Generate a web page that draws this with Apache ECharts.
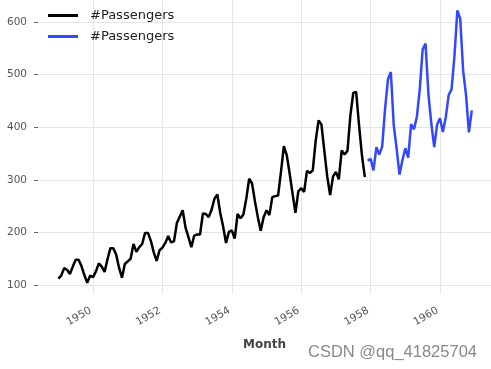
<!DOCTYPE html>
<html><head><meta charset="utf-8">
<script src="https://cdn.jsdelivr.net/npm/echarts@6/dist/echarts.min.js"></script>
<style>html,body{margin:0;padding:0;background:#fff}#c{width:491px;height:369px}</style>
</head><body><div id="c"></div>
<script>
// Monthly passengers; train: 1949-01 .. 1957-11, validation: 1957-12 .. 1960-12
const trainStart = [1949, 1];
const trainValues = [
  112,118,132,129,121,135,148,148,136,119,104,118,
  115,126,141,135,125,149,170,170,158,133,114,140,
  145,150,178,163,172,178,199,199,184,162,146,166,
  171,180,193,181,183,218,230,242,209,191,172,194,
  196,196,236,235,229,243,264,272,237,211,180,201,
  204,188,235,227,234,264,302,293,259,229,203,229,
  242,233,267,269,270,315,364,347,312,274,237,278,
  284,277,317,313,318,374,413,405,355,306,271,306,
  315,301,356,348,355,422,465,467,404,347,305
];
const valStart = [1957, 12];
const valValues = [
  336,
  340,318,362,348,363,435,491,505,404,359,310,337,
  360,342,406,396,420,472,548,559,463,407,362,405,
  417,391,419,461,472,535,622,606,508,461,390,432
];
const xTicks = [1950,1952,1954,1956,1958,1960];
const yTicks = [100,200,300,400,500,600];

// x position = year + (month-1)/12 (time in decimal years)
function monthSeries(start, vals){
  return vals.map((v,i)=>{
    const m0 = start[1]-1+i;
    return [start[0] + m0/12, v];
  });
}

const chart = echarts.init(document.getElementById('c'), null, {renderer:'canvas'});
const font = 'DejaVu Sans';
chart.setOption({
  animation:false,
  grid:{left:38,right:-8,top:0,bottom:75,containLabel:false},
  legend:{
    orient:'vertical', left:43, top:4, icon:'rect', itemWidth:30, itemHeight:3, itemGap:8,
    formatter:()=>'#Passengers',
    textStyle:{fontFamily:font,fontSize:13,color:'#222',padding:[0,0,0,7]},
    data:['train','val']
  },
  xAxis:{
    type:'value',
    min:1948.414, max:1961.47,
    name:'Month', nameLocation:'middle', nameGap:45,
    nameTextStyle:{fontFamily:font,fontSize:12,fontWeight:'bold',color:'#444'},
    axisLine:{show:false},
    axisTick:{show:false,customValues:xTicks},
    axisLabel:{customValues:xTicks,rotate:30,margin:8,align:'right',verticalAlign:'top',
      padding:[0,6,0,0],
      fontFamily:font,fontSize:10.5,color:'#555',
      formatter:(v)=>String(Math.round(v))},
    splitLine:{show:true,lineStyle:{color:'#e5e5e5',width:1}}
  },
  yAxis:{
    type:'value', min:82.9, max:641.8,
    axisLine:{show:false},
    axisTick:{show:true,length:4,customValues:yTicks,lineStyle:{color:'#666'}},
    axisLabel:{customValues:yTicks,margin:11,fontFamily:font,fontSize:10.5,color:'#555'},
    splitLine:{show:true,lineStyle:{color:'#e5e5e5',width:1}}
  },
  series:[
    {name:'train',type:'line',data:monthSeries(trainStart,trainValues),symbol:'none',
      lineStyle:{color:'#000000',width:2.5},itemStyle:{color:'#000000'}},
    {name:'val',type:'line',data:monthSeries(valStart,valValues),symbol:'none',
      lineStyle:{color:'#3347ff',width:2.5},itemStyle:{color:'#3347ff'}}
  ],
  graphic:[{type:'text',right:14,top:344,style:{text:'CSDN @qq_41825704',fontFamily:'Liberation Sans',fontSize:16.5,fill:'#888'}}]
});
</script></body></html>
